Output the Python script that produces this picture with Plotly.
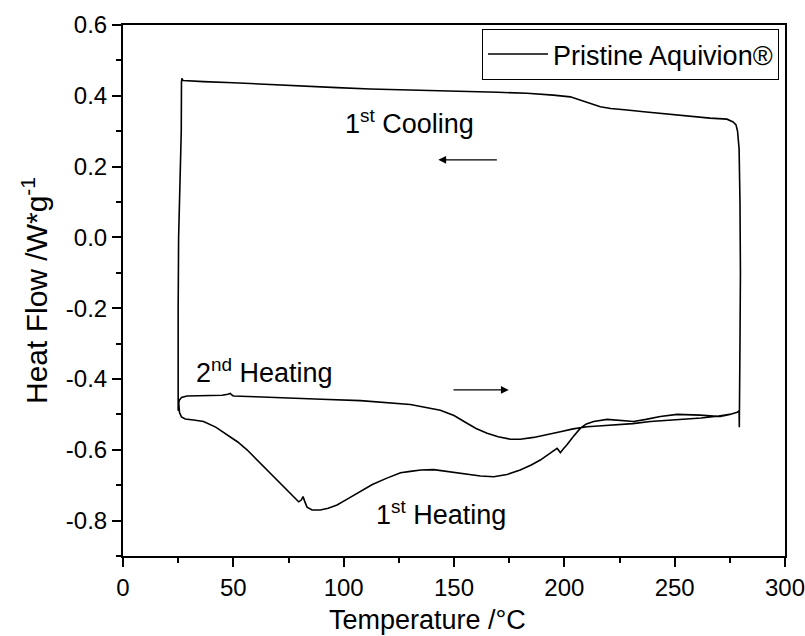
import plotly.graph_objects as go

# ---- data ----
heat1_T = [25.3, 25.6, 26.5, 28.2, 32, 36.5, 42, 47.1, 52, 56.2, 61, 66.8, 70.5, 74.3, 77.5, 79.6,
           80.8, 81.6, 82.3, 83.4, 85.7, 89.4, 93, 97, 102, 107.6, 113, 119.6, 125.8, 130.2, 135,
           140.8, 148, 155.9, 162, 168, 174, 180, 185, 189.1, 193, 196.7, 197.6, 198.2, 199.5,
           201.2, 204, 207.3, 210, 213.3, 219.4, 225, 231.4, 237, 243.5, 251.1, 256, 261.6, 266,
           270.7, 275, 278.3, 279.2]
heat1_HF = [-0.47, -0.495, -0.507, -0.513, -0.516, -0.52, -0.536, -0.558, -0.578, -0.6, -0.63,
            -0.666, -0.69, -0.714, -0.735, -0.747, -0.742, -0.732, -0.745, -0.762, -0.77, -0.77,
            -0.765, -0.756, -0.738, -0.718, -0.698, -0.68, -0.665, -0.661, -0.657, -0.656, -0.662,
            -0.669, -0.674, -0.676, -0.67, -0.657, -0.643, -0.629, -0.612, -0.596, -0.603, -0.608,
            -0.598, -0.586, -0.563, -0.539, -0.527, -0.52, -0.514, -0.516, -0.52, -0.514, -0.506,
            -0.5, -0.5, -0.502, -0.504, -0.506, -0.5, -0.494, -0.49]

hold_T = [279.3, 279.6, 279.8, 279.6, 279.2, 278.5, 277.8, 276.5]
hold_HF = [-0.536, -0.3, -0.1, 0.1, 0.25, 0.3, 0.318, 0.326]

cool1_T = [273.7, 266, 258.6, 251, 243.5, 236, 228.4, 221, 216.3, 213, 210.3, 206, 202.7, 195,
           183.1, 170, 157.4, 140, 127.2, 112, 97, 82, 66.8, 50, 36.5, 28.5, 27.2, 26.7, 26.5,
           26.4, 25.8, 25.2, 25.0, 24.9, 25.0]
cool1_HF = [0.334, 0.337, 0.341, 0.345, 0.35, 0.355, 0.36, 0.364, 0.369, 0.376, 0.383, 0.392,
            0.397, 0.402, 0.407, 0.41, 0.412, 0.414, 0.416, 0.419, 0.423, 0.428, 0.433, 0.437,
            0.44, 0.442, 0.443, 0.449, 0.44, 0.3, 0.15, 0.0, -0.2, -0.45, -0.49]

heat2_T = [25.1, 25.5, 26.5, 29, 35, 39.6, 45, 47.5, 48.6, 49.5, 50.1, 60, 70, 77.3, 90, 107.6,
           120, 130.2, 143.8, 150, 155.9, 160, 165, 170, 175.5, 180, 186.1, 192, 198.2, 204,
           210.3, 217, 223.9, 231, 239, 246, 254.1, 262, 269.2, 275, 278.3, 279.3]
heat2_HF = [-0.475, -0.46, -0.452, -0.448, -0.447, -0.448, -0.446, -0.443, -0.441, -0.446,
            -0.448, -0.45, -0.453, -0.455, -0.457, -0.461, -0.466, -0.472, -0.488, -0.503,
            -0.525, -0.54, -0.553, -0.563, -0.57, -0.57, -0.565, -0.558, -0.549, -0.541, -0.535,
            -0.532, -0.53, -0.526, -0.52, -0.517, -0.514, -0.51, -0.505, -0.5, -0.494, -0.49]

y_tickvals = [-0.8, -0.6, -0.4, -0.2, 0.0, 0.2, 0.4, 0.6]
y_ticktext = ["-0.8", "-0.6", "-0.4", "-0.2", "0.0", "0.2", "0.4", "0.6"]
x_tickvals = [0, 50, 100, 150, 200, 250, 300]

series_name = "Pristine Aquivion®"

T_all = heat1_T + hold_T + cool1_T + heat2_T
HF_all = heat1_HF + hold_HF + cool1_HF + heat2_HF

FONT = "Arial, Liberation Sans, sans-serif"

fig = go.Figure()
fig.add_trace(go.Scatter(x=T_all, y=HF_all, mode="lines", name=series_name,
                         line=dict(color="black", width=1.6), showlegend=True))

axis_common = dict(showline=True, linecolor="black", linewidth=2, mirror=True,
                   ticks="outside", tickcolor="black", tickwidth=1.5, ticklen=9,
                   showgrid=False, zeroline=False, automargin=False,
                   ticklabeloverflow="allow",
                   tickfont=dict(family=FONT, size=24, color="black"))

fig.update_xaxes(range=[0, 300], tickmode="array", tickvals=x_tickvals,
                 minor=dict(tickmode="linear", tick0=0, dtick=25, ticks="outside",
                            ticklen=5, tickwidth=1.5, tickcolor="black"),
                 **axis_common)
fig.update_yaxes(range=[-0.9, 0.6], tickmode="array", tickvals=y_tickvals, ticktext=y_ticktext,
                 minor=dict(tickmode="linear", tick0=0, dtick=0.1, ticks="outside",
                            ticklen=5, tickwidth=1.5, tickcolor="black"),
                 title=dict(text="Heat Flow /W*g<sup>-1</sup>",
                            font=dict(family=FONT, size=30, color="black"), standoff=9),
                 **axis_common)

# x-axis title (placed slightly left of centre as in the reference)
fig.add_annotation(xref="paper", yref="paper", x=0.4607, y=-0.1205,
                   text="Temperature /°C", showarrow=False,
                   xanchor="center", yanchor="middle",
                   font=dict(family=FONT, size=27, color="black"))

ann_font = dict(family=FONT, size=27, color="black")
annotations = [
    dict(x=99.8, y=0.326, text="1<sup>st</sup> Cooling", xanchor="left", yanchor="middle"),
    dict(x=32, y=-0.377, text="2<sup>nd</sup> Heating", xanchor="left", yanchor="middle"),
    dict(x=113.6, y=-0.778, text="1<sup>st</sup> Heating", xanchor="left", yanchor="middle"),
]
for a in annotations:
    fig.add_annotation(xref="x", yref="y", showarrow=False, font=ann_font, **a)

arrows = [((142.9, 0.219), (170.1, 0.219)), ((174.8, -0.431), (149.1, -0.431))]
for (hx, hy), (tx, ty) in arrows:
    fig.add_annotation(x=hx, y=hy, ax=tx, ay=ty, xref="x", yref="y", axref="x", ayref="y",
                       text="", showarrow=True, arrowhead=2, arrowsize=1.3, arrowwidth=1.2,
                       arrowcolor="black")

fig.update_layout(
    template="none",
    width=805, height=636,
    margin=dict(l=123, r=20, t=25, b=80, autoexpand=False),
    paper_bgcolor="white", plot_bgcolor="white",
    font=dict(family=FONT, color="black"),
    legend=dict(x=0.991, y=0.9925, xanchor="right", yanchor="top",
                bordercolor="black", borderwidth=1, bgcolor="white",
                font=dict(family=FONT, size=27, color="black"),
                itemwidth=60, tracegroupgap=0),
)

fig.write_html("out.html")
